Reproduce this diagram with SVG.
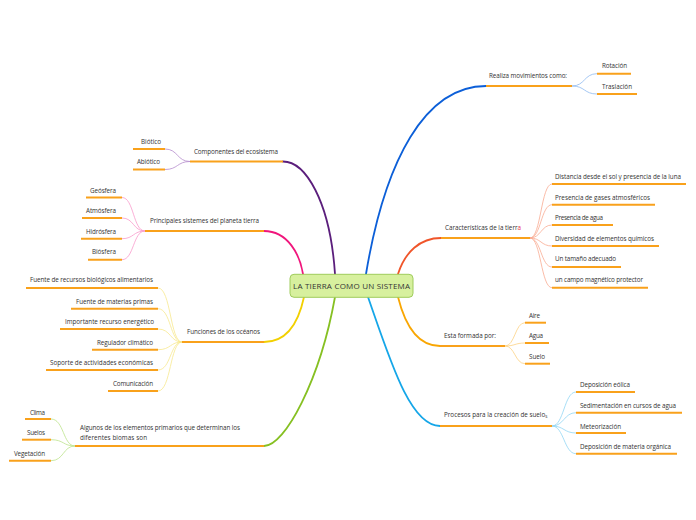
<svg xmlns="http://www.w3.org/2000/svg" width="696" height="520" viewBox="0 0 696 520">
<style>
text{font-family:"Open Sans","Noto Sans","Liberation Sans",sans-serif;font-size:6.3px;fill:#333}
.ul{stroke:#f9a11b;stroke-width:2;fill:none}
.main{fill:none;stroke-width:1.8;stroke-linecap:round}
.sub{fill:none;stroke-width:0.8}
.center{font-size:8px}
</style>
<rect width="696" height="520" fill="#fff"/>
<g id="connectors">
<path class="main" stroke="#5b1e7c" d="M335,274 C330,200 305,161.5 283,161.5"/>
<path class="main" stroke="#f0167c" d="M303,274 C300,255 288,231 264,231"/>
<path class="main" stroke="#f2d000" d="M304,297 C298,325 285,342 264,342"/>
<path class="main" stroke="#86c022" d="M335,297 C320,380 285,446 264,446"/>
<path class="main" stroke="#0c5fd8" d="M366,274 C385,160 425,86 486,86"/>
<path class="main" stroke="#f0552a" d="M398,274 C405,252 420,238 441,238"/>
<path class="main" stroke="#f9a602" d="M398,297 C405,325 418,346 440,346"/>
<path class="main" stroke="#15a6e8" d="M368,297 C390,360 410,426 440,426"/>
<g stroke="#b58ccd" class="sub">
<path d="M190,161.5 C177,161.5 178,149 165,149"/>
<path d="M190,161.5 C177,161.5 178,169.5 165,169.5"/>
</g>
<g stroke="#f99acb" class="sub">
<path d="M145,231 C133,231 134,197.5 122,197.5"/>
<path d="M145,231 C133,231 134,218 122,218"/>
<path d="M145,231 C133,231 134,238.7 122,238.7"/>
<path d="M145,231 C133,231 134,259.7 122,259.7"/>
</g>
<g stroke="#f7e88e" class="sub">
<path d="M182,342 C170,342 171,288 158,288"/>
<path d="M182,342 C170,342 171,308.7 158,308.7"/>
<path d="M182,342 C170,342 171,329 158,329"/>
<path d="M182,342 C170,342 171,349.7 158,349.7"/>
<path d="M182,342 C170,342 171,370 158,370"/>
<path d="M182,342 C170,342 171,391 158,391"/>
</g>
<g stroke="#bde38c" class="sub">
<path d="M75,446 C63,446 64,419 51,419"/>
<path d="M75,446 C63,446 64,439.7 51,439.7"/>
<path d="M75,446 C63,446 64,460.7 51,460.7"/>
</g>
<g stroke="#8db9f0" class="sub">
<path d="M572,86 C585,86 584,73.7 597,73.7"/>
<path d="M572,86 C585,86 584,94 597,94"/>
</g>
<g stroke="#f9ab92" class="sub">
<path d="M530,238 C541,238 541,184 552,184"/>
<path d="M530,238 C541,238 541,204.7 552,204.7"/>
<path d="M530,238 C541,238 541,225 552,225"/>
<path d="M530,238 C541,238 541,246 552,246"/>
<path d="M530,238 C541,238 541,267 552,267"/>
<path d="M530,238 C541,238 541,287.7 552,287.7"/>
</g>
<g stroke="#fcd283" class="sub">
<path d="M505,346 C515,346 515,322.7 525,322.7"/>
<path d="M505,346 C515,346 515,343 525,343"/>
<path d="M505,346 C515,346 515,363.7 525,363.7"/>
</g>
<g stroke="#92d5f4" class="sub">
<path d="M552,426 C564,426 564,392 576,392"/>
<path d="M552,426 C564,426 564,412.7 576,412.7"/>
<path d="M552,426 C564,426 564,433 576,433"/>
<path d="M552,426 C564,426 564,453.7 576,453.7"/>
</g>
</g>
<g id="center">
<rect x="290" y="274.3" width="123" height="23" rx="4" fill="#d7f09e" stroke="#9fcc5c" stroke-width="1"/>
<text class="center" x="293" y="288.7" textLength="117">LA TIERRA COMO UN SISTEMA</text>
</g>
<g id="componentes">
<line class="ul" x1="190" y1="161.5" x2="283" y2="161.5"/>
<text x="194" y="153.5" textLength="84">Componentes del ecosistema</text>
</g>
<g id="biotico"><line class="ul" x1="133" y1="149" x2="165" y2="149"/><text x="141" y="143.5" textLength="20">Biótico</text></g>
<g id="abiotico"><line class="ul" x1="133" y1="169.5" x2="165" y2="169.5"/><text x="137" y="164" textLength="23">Abiótico</text></g>
<g id="principales">
<line class="ul" x1="145" y1="231" x2="264" y2="231"/>
<text x="150" y="223" textLength="109">Principales sistemes del planeta tierra</text>
</g>
<g id="geosfera"><line class="ul" x1="86" y1="197.5" x2="122" y2="197.5"/><text x="90" y="192.5" textLength="26">Geósfera</text></g>
<g id="atmosfera"><line class="ul" x1="82" y1="218" x2="122" y2="218"/><text x="86" y="213" textLength="30">Atmósfera</text></g>
<g id="hidrosfera"><line class="ul" x1="81" y1="238.7" x2="122" y2="238.7"/><text x="86" y="233.5" textLength="30">Hidrósfera</text></g>
<g id="biosfera"><line class="ul" x1="88" y1="259.7" x2="122" y2="259.7"/><text x="92" y="254" textLength="24">Biósfera</text></g>
<g id="funciones">
<line class="ul" x1="182" y1="342" x2="264" y2="342"/>
<text x="187" y="333.5" textLength="73">Funciones de los océanos</text>
</g>
<g id="f1"><line class="ul" x1="26" y1="288" x2="158" y2="288"/><text x="30" y="282" textLength="123">Fuente de recursos biológicos alimentarios</text></g>
<g id="f2"><line class="ul" x1="71" y1="308.7" x2="158" y2="308.7"/><text x="76" y="303.5" textLength="77">Fuente de materias primas</text></g>
<g id="f3"><line class="ul" x1="60" y1="329" x2="158" y2="329"/><text x="65" y="324" textLength="89">Importante recurso energético</text></g>
<g id="f4"><line class="ul" x1="92" y1="349.7" x2="158" y2="349.7"/><text x="97" y="344.5" textLength="56">Regulador climático</text></g>
<g id="f5"><line class="ul" x1="46" y1="370" x2="158" y2="370"/><text x="50" y="365" textLength="103">Soporte de actividades económicas</text></g>
<g id="f6"><line class="ul" x1="108" y1="391" x2="158" y2="391"/><text x="113" y="385.5" textLength="40">Comunicación</text></g>
<g id="algunos">
<line class="ul" x1="75" y1="446" x2="264" y2="446"/>
<text x="80" y="430" textLength="160">Algunos de los elementos primarios que determinan los</text>
<text x="80" y="439.5" textLength="67">diferentes biomas son</text>
</g>
<g id="clima"><line class="ul" x1="25" y1="419" x2="51" y2="419"/><text x="30" y="414.5" textLength="15">Clima</text></g>
<g id="suelos"><line class="ul" x1="22" y1="439.7" x2="51" y2="439.7"/><text x="27" y="434.5" textLength="18">Suelos</text></g>
<g id="vegetacion"><line class="ul" x1="9" y1="460.7" x2="51" y2="460.7"/><text x="14" y="455.5" textLength="31">Vegetación</text></g>
<g id="realiza">
<line class="ul" x1="486" y1="86" x2="572" y2="86"/>
<text x="489" y="78" textLength="78">Realiza movimientos como:</text>
</g>
<g id="rotacion"><line class="ul" x1="597" y1="73.7" x2="631" y2="73.7"/><text x="602" y="68" textLength="25">Rotación</text></g>
<g id="traslacion"><line class="ul" x1="597" y1="94" x2="637" y2="94"/><text x="602" y="89" textLength="30">Traslación</text></g>
<g id="caracteristicas">
<line class="ul" x1="441" y1="238" x2="530" y2="238"/>
<text x="445" y="229.5" textLength="76">Características de la tierr<tspan fill="#e8334a">a</tspan></text>
</g>
<g id="c1"><line class="ul" x1="552" y1="184" x2="686" y2="184"/><text x="555" y="178.5" textLength="126">Distancia desde el sol y presencia de la luna</text></g>
<g id="c2"><line class="ul" x1="552" y1="204.7" x2="655" y2="204.7"/><text x="555" y="199.5" textLength="95">Presencia de gases atmosféricos</text></g>
<g id="c3"><line class="ul" x1="552" y1="225" x2="613" y2="225"/><text x="555" y="220" textLength="48">Presencia de agua</text></g>
<g id="c4"><line class="ul" x1="552" y1="246" x2="659" y2="246"/><text x="555" y="240.5" textLength="99">Diversidad de elementos químicos</text></g>
<g id="c5"><line class="ul" x1="552" y1="267" x2="621" y2="267"/><text x="555" y="261" textLength="61">Un tamaño adecuado</text></g>
<g id="c6"><line class="ul" x1="552" y1="287.7" x2="648" y2="287.7"/><text x="555" y="282" textLength="88">un campo magnético protector</text></g>
<g id="esta">
<line class="ul" x1="440" y1="346" x2="505" y2="346"/>
<text x="444" y="337.5" textLength="52">Esta formada por:</text>
</g>
<g id="aire"><line class="ul" x1="525" y1="322.7" x2="546" y2="322.7"/><text x="529" y="317.5" textLength="11">Aire</text></g>
<g id="agua"><line class="ul" x1="525" y1="343" x2="549" y2="343"/><text x="529" y="338" textLength="14">Agua</text></g>
<g id="suelo"><line class="ul" x1="525" y1="363.7" x2="550" y2="363.7"/><text x="529" y="358.5" textLength="16">Suelo</text></g>
<g id="procesos">
<line class="ul" x1="440" y1="426" x2="552" y2="426"/>
<text x="444" y="416.5">Procesos para la creación de suelo<tspan font-size="4.5" dy="1.5">s</tspan></text>
</g>
<g id="p1"><line class="ul" x1="576" y1="392" x2="635" y2="392"/><text x="580" y="387" textLength="50">Deposición eólica</text></g>
<g id="p2"><line class="ul" x1="576" y1="412.7" x2="682" y2="412.7"/><text x="580" y="407.5" textLength="96">Sedimentación en cursos de agua</text></g>
<g id="p3"><line class="ul" x1="576" y1="433" x2="626" y2="433"/><text x="580" y="428.5" textLength="41">Meteorización</text></g>
<g id="p4"><line class="ul" x1="576" y1="453.7" x2="677" y2="453.7"/><text x="580" y="448.5" textLength="91">Deposición de materia orgánica</text></g>
</svg>
